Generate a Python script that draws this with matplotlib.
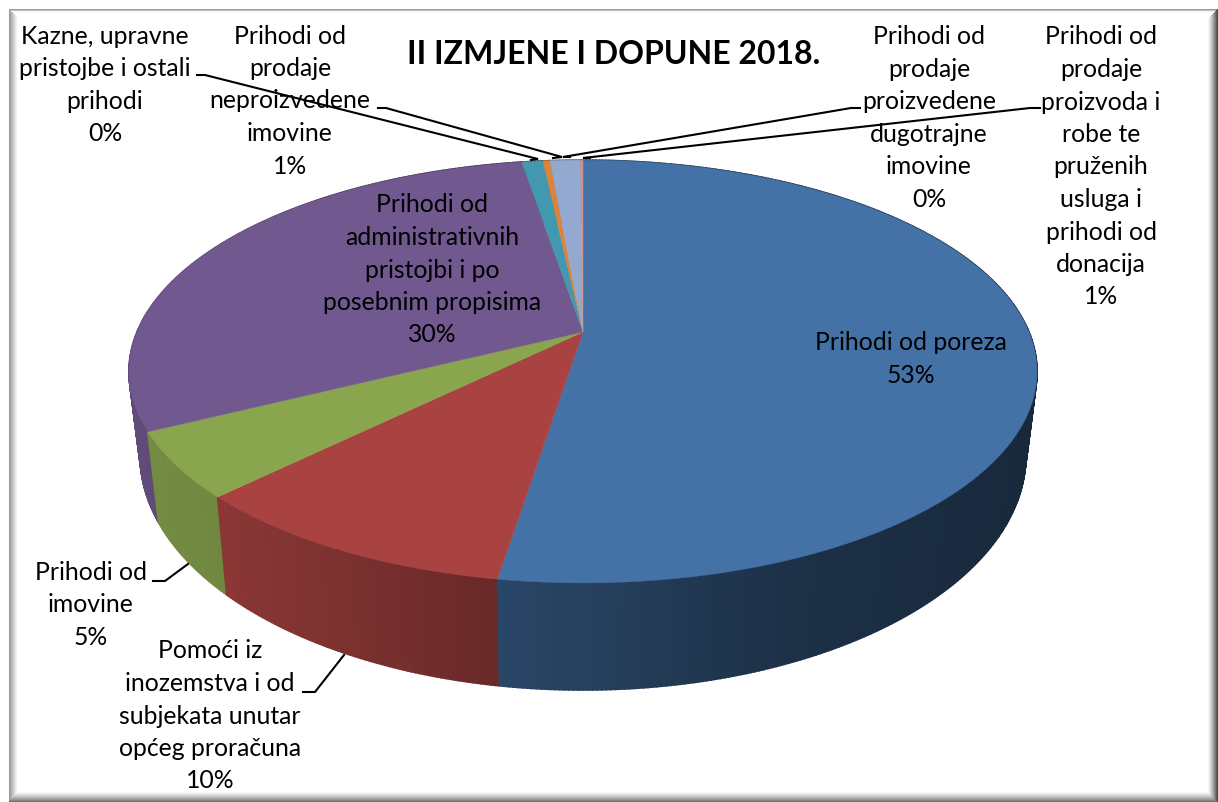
import numpy as np
import matplotlib
matplotlib.use("Agg")
import matplotlib.pyplot as plt

plt.rcParams["font.family"] = ["Lato", "DejaVu Sans"]

TITLE = "II IZMJENE I DOPUNE 2018."

# shares, clockwise from the top
values = [52.5, 10.1, 5.0, 29.8, 0.9, 0.3, 1.3, 0.1]
names = [
    "Prihodi od poreza",
    "Pomoći iz\ninozemstva i od\nsubjekata unutar\nopćeg proračuna",
    "Prihodi od\nimovine",
    "Prihodi od\nadministrativnih\npristojbi i po\nposebnim propisima",
    "Kazne, upravne\npristojbe i ostali\nprihodi",
    "Prihodi od\nprodaje\nneproizvedene\nimovine",
    "Prihodi od\nprodaje\nproizvoda i\nrobe te\npruženih\nusluga i\nprihodi od\ndonacija",
    "Prihodi od\nprodaje\nproizvedene\ndugotrajne\nimovine",
]
percents = ["53%", "10%", "5%", "30%", "0%", "1%", "1%", "0%"]
colors = ["#4472a7", "#a84341", "#89a54e", "#71588f", "#4198af", "#db843d", "#93a9cf", "#d19392"]

# label centres and leader lines in pixels
label_pos = [(911, 359), (210, 716), (91, 605), (432, 270), (105, 85), (290, 101), (1101, 167), (929, 118)]
leaders = [
    None,
    [(303, 692), (315, 692), (344, 655)],
    [(153, 581), (165, 581), (188, 564)],
    None,
    [(197, 75), (205, 75), (538, 159), (531, 160)],
    [(378, 108), (386, 108), (562, 157), (553, 158)],
    [(1040, 108), (1030, 108), (583, 158), (590, 158)],
    [(860, 108), (851, 108), (563, 157), (570, 157)],
]

W, H = 1218, 802
CX = 583
K = 0.187
TOP = dict(cy=332, a=446, b=204)
BOTTOM = dict(cy=412, a=435, b=226)


def project(t, disc):
    # t in degrees clockwise from 12 o'clock, perspective view of the disc
    r = np.radians(t)
    u, v = np.sin(r), -np.cos(r)
    w = 1 - K * v
    return CX + disc["a"] * u / w, disc["cy"] + disc["b"] * v / w


def shade(x):
    return np.interp(x, [130, 226, 497, 800, 1030], [0.85, 0.82, 0.62, 0.42, 0.36])


fig = plt.figure(figsize=(W / 100, H / 100), dpi=100)
ax = fig.add_axes([0, 0, 1, 1])
ax.set_xlim(0, W)
ax.set_ylim(H, 0)
ax.axis("off")

# bevelled frame, mitred at the corners
for j in range(9):
    g = 0.6 + 0.4 * j / 8
    ax.fill([9 + j, 10 + j, 10 + j, 9 + j], [9 + j, 9 + j, H - j, H - j], color=(g, g, g), lw=0, zorder=0.1)
for j in range(3):
    g = 0.6 + 0.17 * j
    ax.fill([9 + j, W - j, W - j, 9 + j], [9 + j, 9 + j, 10 + j, 10 + j], color=(g, g, g), lw=0, zorder=0.1)
for j in range(11):
    g = 1 - 0.55 * ((10 - j) / 10) ** 1.3
    ax.fill([9 + j, W - j, W - j, 9 + j], [H - 1 - j, H - 1 - j, H - j, H - j], color=(g, g, g), lw=0, zorder=0.2)
for j in range(11):
    g = 1 - 0.72 * ((10 - j) / 10) ** 1.3
    ax.fill([W - 1 - j, W - j, W - j, W - 1 - j], [9 + j, 9 + j, H - j, H - j], color=(g, g, g), lw=0, zorder=0.2)

edges = np.cumsum([0] + values) / sum(values) * 360

# side wall first, back to front
quads = []
for i, c in enumerate(colors):
    base = np.array(matplotlib.colors.to_rgb(c))
    ts = np.arange(edges[i], edges[i + 1] + 0.5, 0.5)
    ts[-1] = edges[i + 1]
    for t0, t1 in zip(ts[:-1], ts[1:]):
        x0, y0 = project(t0, TOP)
        x1, y1 = project(t1, TOP)
        x2, y2 = project(t1, BOTTOM)
        x3, y3 = project(t0, BOTTOM)
        quads.append((y0, [x0, x1, x2, x3], [y0, y1, y2, y3], base * shade((x0 + x1) / 2)))
for _, xs, ys, col in sorted(quads, key=lambda q: q[0]):
    ax.fill(xs, ys, color=col, lw=1.2, zorder=1)

# top of the pie
for i, c in enumerate(colors):
    ts = np.linspace(edges[i], edges[i + 1], max(int(values[i] * 10), 4))
    xs, ys = project(ts, TOP)
    ax.fill(np.r_[CX, xs], np.r_[TOP["cy"], ys], color=c, lw=0.3, zorder=2)

for line in leaders:
    if line:
        ax.plot(*zip(*line), color="black", lw=1.5, zorder=3, solid_joinstyle="miter")

for name, pct, (x, y) in zip(names, percents, label_pos):
    ax.text(x, y, name + "\n" + pct, ha="center", va="center", fontsize=17.8,
            linespacing=1.5, color="black", zorder=4)

ax.text(614, 55, TITLE, ha="center", va="center", fontsize=23, fontweight="bold", color="black", zorder=4)

fig.savefig("out.png", dpi=100)
